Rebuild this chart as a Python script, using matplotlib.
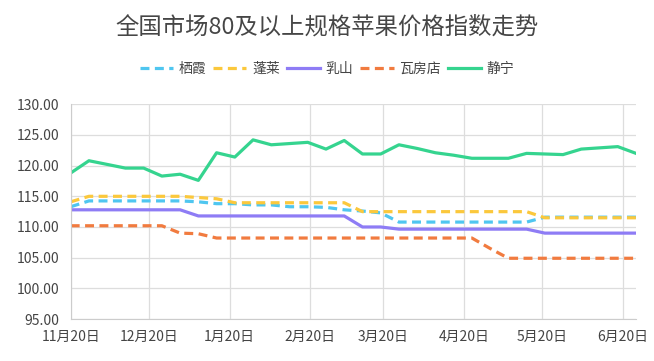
import matplotlib
matplotlib.use("Agg")
import matplotlib.pyplot as plt
import pandas as pd

plt.rcParams['font.family'] = ['Noto Sans CJK SC', 'DejaVu Sans']

# weekly index values
dates = pd.date_range("2022-11-20", periods=32, freq="7D")

qixia = [113.3, 114.25, 114.25, 114.25, 114.25, 114.25, 114.25, 114.1, 113.8, 113.8,
         113.6, 113.6, 113.3, 113.3, 113.2, 112.8, 112.6, 112.3, 110.8, 110.8,
         110.8, 110.8, 110.8, 110.8, 110.8, 110.8, 111.6, 111.6, 111.6, 111.6,
         111.6, 111.6]
penglai = [114.1, 115.0, 115.0, 115.0, 115.0, 115.0, 115.0, 114.8, 114.6, 113.95,
           113.95, 113.95, 113.95, 113.95, 113.95, 113.95, 112.5, 112.5, 112.5, 112.5,
           112.5, 112.5, 112.5, 112.5, 112.5, 112.5, 111.5, 111.5, 111.5, 111.5,
           111.5, 111.5]
rushan = [112.8, 112.8, 112.8, 112.8, 112.8, 112.8, 112.8, 111.8, 111.8, 111.8,
          111.8, 111.8, 111.8, 111.8, 111.8, 111.8, 110.0, 110.0, 109.65, 109.65,
          109.65, 109.65, 109.65, 109.65, 109.65, 109.65, 109.0, 109.0, 109.0, 109.0,
          109.0, 109.0]
wafangdian = [110.2, 110.2, 110.2, 110.2, 110.2, 110.2, 109.0, 108.9, 108.2, 108.2,
              108.2, 108.2, 108.2, 108.2, 108.2, 108.2, 108.2, 108.2, 108.2, 108.2,
              108.2, 108.2, 108.2, 106.5, 104.9, 104.9, 104.9, 104.9, 104.9, 104.9,
              104.9, 104.9]
jingning = [118.8, 120.8, 120.2, 119.6, 119.6, 118.3, 118.6, 117.6, 122.1, 121.4,
            124.2, 123.4, 123.6, 123.8, 122.7, 124.1, 121.9, 121.9, 123.4, 122.8,
            122.1, 121.7, 121.2, 121.2, 121.2, 122.0, 121.9, 121.8, 122.7, 122.9,
            123.1, 122.0]

tick_dates = pd.to_datetime(["2022-11-20", "2022-12-20", "2023-01-20", "2023-02-20",
                             "2023-03-20", "2023-04-20", "2023-05-20", "2023-06-20"])
tick_labels = ["11月20日", "12月20日", "1月20日", "2月20日", "3月20日", "4月20日",
               "5月20日", "6月20日"]
y_ticks = [95, 100, 105, 110, 115, 120, 125, 130]

fig = plt.figure(figsize=(6.54, 3.61), dpi=100)
ax = fig.add_axes([70.7 / 654, 1 - 319 / 361, (636 - 70.7) / 654, (319 - 104.3) / 361])

dash = (2.8, 1.7)
ax.plot(dates, qixia, color="#4fc6f0", lw=2.3, dashes=dash, label="栖霞")
ax.plot(dates, penglai, color="#fbc83c", lw=2.3, dashes=dash, label="蓬莱")
ax.plot(dates, rushan, color="#8e7cf5", lw=2.3, label="乳山")
ax.plot(dates, wafangdian, color="#f17b3f", lw=2.3, dashes=dash, label="瓦房店")
ax.plot(dates, jingning, color="#35d48f", lw=2.3, label="静宁")

ax.set_xlim(dates[0], dates[-1])
ax.set_ylim(95, 130)
ax.set_yticks(y_ticks)
ax.set_yticklabels([f"{v:.2f}" for v in y_ticks])
ax.set_xticks(tick_dates)
ax.set_xticklabels(tick_labels)
ax.tick_params(length=0, labelsize=10, colors="#444444", pad=8)
ax.grid(True, color="#dddddd", lw=0.9)
ax.set_axisbelow(True)
for side in ["top", "right"]:
    ax.spines[side].set_visible(False)
for side in ["left", "bottom"]:
    ax.spines[side].set_color("#cccccc")

fig.text(0.5, 1 - 27 / 361, "全国市场80及以上规格苹果价格指数走势", ha="center", va="center",
         fontsize=16.8, color="#464646")
fig.legend(loc="center", bbox_to_anchor=(0.5, 1 - 69 / 361), ncol=5, frameon=False,
           fontsize=10, handlelength=2.4, handletextpad=0.4, columnspacing=0.5,
           labelcolor="#444444")

fig.savefig("out.png", dpi=100)
